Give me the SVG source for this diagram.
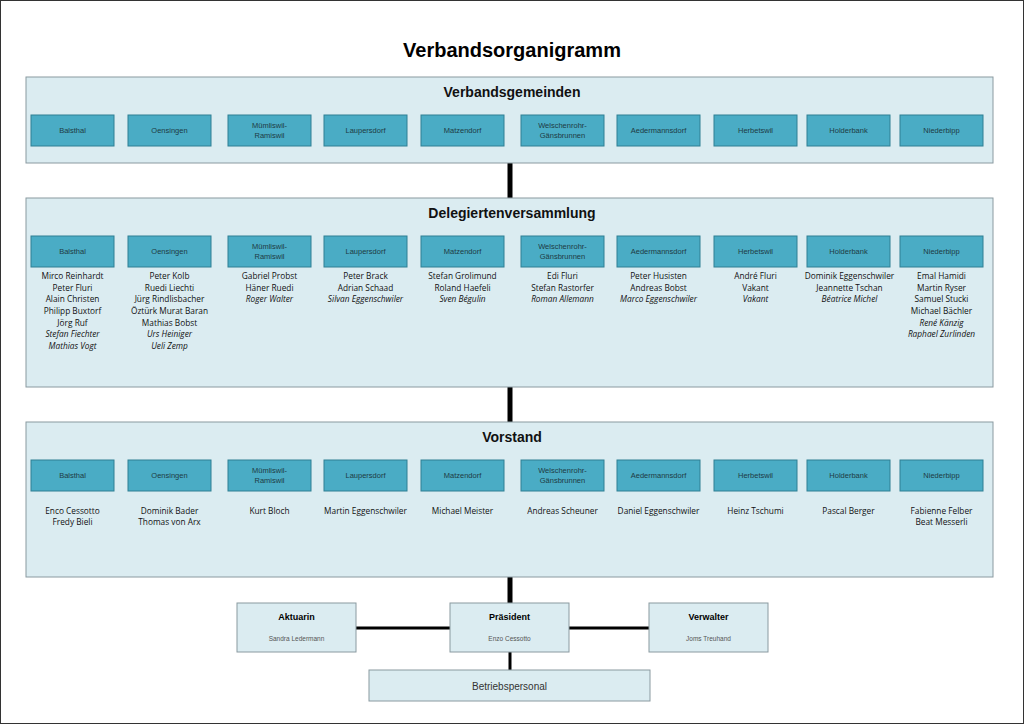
<svg xmlns="http://www.w3.org/2000/svg" width="1024" height="724" viewBox="0 0 1024 724">
<style>
text{font-family:"Liberation Sans",Arial,sans-serif;text-anchor:middle}
.big{fill:#dbecf1;stroke:#8a9aa0;stroke-width:1}
.sm{fill:#4aacc5;stroke:#2f7f93;stroke-width:1}
.sl{font-size:7.5px;fill:#1e3b44}
.h{font-size:14px;font-weight:bold;fill:#111}
.n{font-family:"Open Sans","DejaVu Sans",sans-serif;font-size:8.3px;fill:#111}
.i{font-style:italic}
.thick{stroke:#000;stroke-width:5}
.thin{stroke:#000;stroke-width:3}
.bb{fill:#dbecf1;stroke:#8a9aa0}
</style>
<rect x="0.5" y="0.5" width="1023" height="723" fill="#fff" stroke="#333"/>
<text x="512" y="57" style="font-size:20px;font-weight:bold" fill="#000">Verbandsorganigramm</text>
<g id="connectors">
<line class="thick" x1="510" y1="163" x2="510" y2="198"/>
<line class="thick" x1="510" y1="387" x2="510" y2="422"/>
<line class="thick" x1="510" y1="577" x2="510" y2="603"/>
<line class="thin" x1="356" y1="628" x2="450" y2="628"/>
<line class="thin" x1="569" y1="628" x2="649" y2="628"/>
<line class="thin" x1="510" y1="652" x2="510" y2="670"/>
</g>
<g id="verbandsgemeinden">
<rect class="big" x="26" y="77" width="967" height="86"/>
<text class="h" x="512" y="97">Verbandsgemeinden</text>
<g transform="translate(0,115)">
<rect class="sm" x="31" width="83" height="31"/><text class="sl" x="72.5" y="18">Balsthal</text>
<rect class="sm" x="128" width="83" height="31"/><text class="sl" x="169.5" y="18">Oensingen</text>
<rect class="sm" x="228" width="83" height="31"/><text class="sl" x="269.5" y="13">Mümliswil-</text><text class="sl" x="269.5" y="23">Ramiswil</text>
<rect class="sm" x="324" width="83" height="31"/><text class="sl" x="365.5" y="18">Laupersdorf</text>
<rect class="sm" x="421" width="83" height="31"/><text class="sl" x="462.5" y="18">Matzendorf</text>
<rect class="sm" x="521" width="83" height="31"/><text class="sl" x="562.5" y="13">Welschenrohr-</text><text class="sl" x="562.5" y="23">Gänsbrunnen</text>
<rect class="sm" x="617" width="83" height="31"/><text class="sl" x="658.5" y="18">Aedermannsdorf</text>
<rect class="sm" x="714" width="83" height="31"/><text class="sl" x="755.5" y="18">Herbetswil</text>
<rect class="sm" x="807" width="83" height="31"/><text class="sl" x="848.5" y="18">Holderbank</text>
<rect class="sm" x="900" width="83" height="31"/><text class="sl" x="941.5" y="18">Niederbipp</text>
</g>
</g>
<g id="delegiertenversammlung">
<rect class="big" x="26" y="198" width="967" height="189"/>
<text class="h" x="512" y="218">Delegiertenversammlung</text>
<g transform="translate(0,236)">
<rect class="sm" x="31" width="83" height="31"/><text class="sl" x="72.5" y="18">Balsthal</text>
<rect class="sm" x="128" width="83" height="31"/><text class="sl" x="169.5" y="18">Oensingen</text>
<rect class="sm" x="228" width="83" height="31"/><text class="sl" x="269.5" y="13">Mümliswil-</text><text class="sl" x="269.5" y="23">Ramiswil</text>
<rect class="sm" x="324" width="83" height="31"/><text class="sl" x="365.5" y="18">Laupersdorf</text>
<rect class="sm" x="421" width="83" height="31"/><text class="sl" x="462.5" y="18">Matzendorf</text>
<rect class="sm" x="521" width="83" height="31"/><text class="sl" x="562.5" y="13">Welschenrohr-</text><text class="sl" x="562.5" y="23">Gänsbrunnen</text>
<rect class="sm" x="617" width="83" height="31"/><text class="sl" x="658.5" y="18">Aedermannsdorf</text>
<rect class="sm" x="714" width="83" height="31"/><text class="sl" x="755.5" y="18">Herbetswil</text>
<rect class="sm" x="807" width="83" height="31"/><text class="sl" x="848.5" y="18">Holderbank</text>
<rect class="sm" x="900" width="83" height="31"/><text class="sl" x="941.5" y="18">Niederbipp</text>
</g>
<g class="n">
<text x="72.5" y="279" class="n">Mirco Reinhardt</text><text x="72.5" y="291" class="n">Peter Fluri</text><text x="72.5" y="302" class="n">Alain Christen</text><text x="72.5" y="314" class="n">Philipp Buxtorf</text><text x="72.5" y="326" class="n">Jörg Ruf</text><text x="72.5" y="337" class="n i">Stefan Fiechter</text><text x="72.5" y="349" class="n i">Mathias Vogt</text>
<text x="169.5" y="279" class="n">Peter Kolb</text><text x="169.5" y="291" class="n">Ruedi Liechti</text><text x="169.5" y="302" class="n">Jürg Rindlisbacher</text><text x="169.5" y="314" class="n">Öztürk Murat Baran</text><text x="169.5" y="326" class="n">Mathias Bobst</text><text x="169.5" y="337" class="n i">Urs Heiniger</text><text x="169.5" y="349" class="n i">Ueli Zemp</text>
<text x="269.5" y="279" class="n">Gabriel Probst</text><text x="269.5" y="291" class="n">Häner Ruedi</text><text x="269.5" y="302" class="n i">Roger Walter</text>
<text x="365.5" y="279" class="n">Peter Brack</text><text x="365.5" y="291" class="n">Adrian Schaad</text><text x="365.5" y="302" class="n i">Silvan Eggenschwiler</text>
<text x="462.5" y="279" class="n">Stefan Grolimund</text><text x="462.5" y="291" class="n">Roland Haefeli</text><text x="462.5" y="302" class="n i">Sven Bégulin</text>
<text x="562.5" y="279" class="n">Edi Fluri</text><text x="562.5" y="291" class="n">Stefan Rastorfer</text><text x="562.5" y="302" class="n i">Roman Allemann</text>
<text x="658.5" y="279" class="n">Peter Husisten</text><text x="658.5" y="291" class="n">Andreas Bobst</text><text x="658.5" y="302" class="n i">Marco Eggenschwiler</text>
<text x="755.5" y="279" class="n">André Fluri</text><text x="755.5" y="291" class="n">Vakant</text><text x="755.5" y="302" class="n i">Vakant</text>
<text x="849.5" y="279" class="n">Dominik Eggenschwiler</text><text x="849.5" y="291" class="n">Jeannette Tschan</text><text x="849.5" y="302" class="n i">Béatrice Michel</text>
<text x="941.5" y="279" class="n">Emal Hamidi</text><text x="941.5" y="291" class="n">Martin Ryser</text><text x="941.5" y="302" class="n">Samuel Stucki</text><text x="941.5" y="314" class="n">Michael Bächler</text><text x="941.5" y="326" class="n i">René Känzig</text><text x="941.5" y="337" class="n i">Raphael Zurlinden</text>
</g>
</g>
<g id="vorstand">
<rect class="big" x="26" y="422" width="967" height="155"/>
<text class="h" x="512" y="442">Vorstand</text>
<g transform="translate(0,460)">
<rect class="sm" x="31" width="83" height="31"/><text class="sl" x="72.5" y="18">Balsthal</text>
<rect class="sm" x="128" width="83" height="31"/><text class="sl" x="169.5" y="18">Oensingen</text>
<rect class="sm" x="228" width="83" height="31"/><text class="sl" x="269.5" y="13">Mümliswil-</text><text class="sl" x="269.5" y="23">Ramiswil</text>
<rect class="sm" x="324" width="83" height="31"/><text class="sl" x="365.5" y="18">Laupersdorf</text>
<rect class="sm" x="421" width="83" height="31"/><text class="sl" x="462.5" y="18">Matzendorf</text>
<rect class="sm" x="521" width="83" height="31"/><text class="sl" x="562.5" y="13">Welschenrohr-</text><text class="sl" x="562.5" y="23">Gänsbrunnen</text>
<rect class="sm" x="617" width="83" height="31"/><text class="sl" x="658.5" y="18">Aedermannsdorf</text>
<rect class="sm" x="714" width="83" height="31"/><text class="sl" x="755.5" y="18">Herbetswil</text>
<rect class="sm" x="807" width="83" height="31"/><text class="sl" x="848.5" y="18">Holderbank</text>
<rect class="sm" x="900" width="83" height="31"/><text class="sl" x="941.5" y="18">Niederbipp</text>
</g>
<text x="72.5" y="514" class="n">Enco Cessotto</text><text x="72.5" y="525" class="n">Fredy Bieli</text>
<text x="169.5" y="514" class="n">Dominik Bader</text><text x="169.5" y="525" class="n">Thomas von Arx</text>
<text x="269.5" y="514" class="n">Kurt Bloch</text>
<text x="365.5" y="514" class="n">Martin Eggenschwiler</text>
<text x="462.5" y="514" class="n">Michael Meister</text>
<text x="562.5" y="514" class="n">Andreas Scheuner</text>
<text x="658.5" y="514" class="n">Daniel Eggenschwiler</text>
<text x="755.5" y="514" class="n">Heinz Tschumi</text>
<text x="848.5" y="514" class="n">Pascal Berger</text>
<text x="941.5" y="514" class="n">Fabienne Felber</text><text x="941.5" y="525" class="n">Beat Messerli</text>
</g>
<g id="aktuarin"><rect class="bb" x="237" y="603" width="119" height="49"/><text x="296.5" y="620" style="font-size:9px;font-weight:bold">Aktuarin</text><text x="296.5" y="641" style="font-size:6.5px" fill="#555">Sandra Ledermann</text></g>
<g id="praesident"><rect class="bb" x="450" y="603" width="119" height="49"/><text x="509.5" y="620" style="font-size:9px;font-weight:bold">Präsident</text><text x="509.5" y="641" style="font-size:6.5px" fill="#555">Enzo Cessotto</text></g>
<g id="verwalter"><rect class="bb" x="649" y="603" width="119" height="49"/><text x="708.5" y="620" style="font-size:9px;font-weight:bold">Verwalter</text><text x="708.5" y="641" style="font-size:6.5px" fill="#555">Joms Treuhand</text></g>
<g id="betriebspersonal"><rect class="bb" x="369" y="670" width="281" height="31"/><text x="509.5" y="690" style="font-size:10px" fill="#333">Betriebspersonal</text></g>
</svg>
